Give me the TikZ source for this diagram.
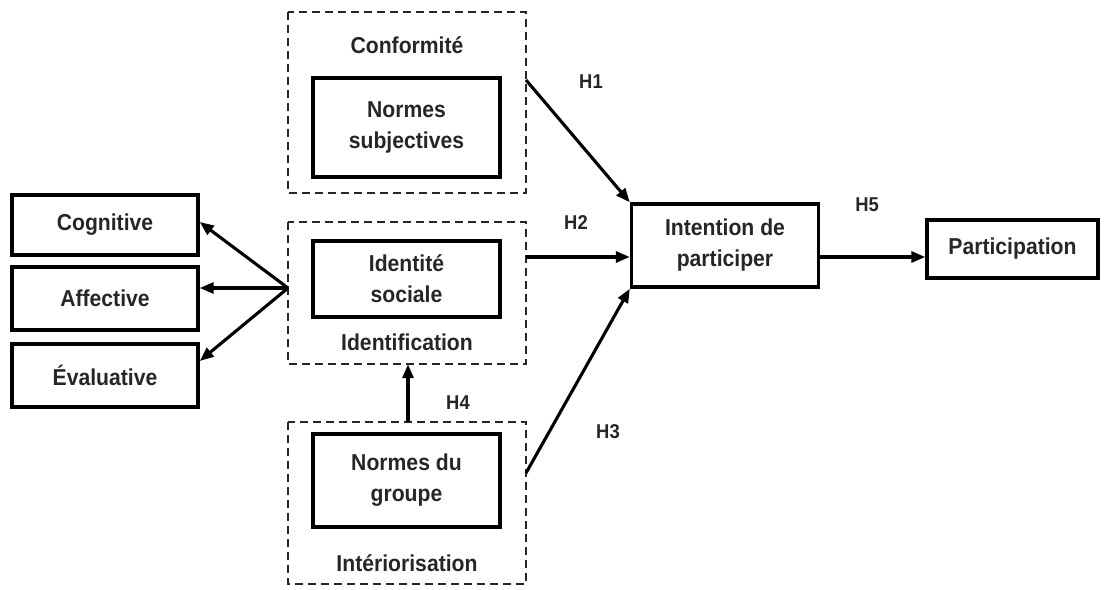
\documentclass[tikz,border=0pt]{standalone}
\usepackage{fontspec}
\setmainfont{Liberation Sans}[FakeStretch=0.92]
\usetikzlibrary{arrows.meta}
\begin{document}
\begin{tikzpicture}[x=1pt,y=-1pt,
  every node/.style={font=\bfseries\fontsize{23}{31}\selectfont, text=black!85, align=center, inner sep=0pt},
  solidbox/.style={draw=black, line width=3.4pt, minimum width=#1, minimum height=60pt},
  groupbox/.style={draw=black!85, line width=2pt, dash pattern=on 8pt off 5pt},
  link/.style={line width=3.1pt, -{Triangle[length=14pt,width=11pt]}},
  hyp/.style={font=\bfseries\fontsize{20}{22}\selectfont}]
\useasboundingbox (0,0) rectangle (1105,589);
% outer dashed groups
\draw[groupbox] (288,12) rectangle (526,193);
\draw[groupbox] (288,222) rectangle (526,364);
\draw[groupbox] (288,422) rectangle (526,584);
\node[minimum width=238pt, minimum height=181pt] (conf) at (407,102.5) {};
\node[minimum width=238pt, minimum height=142pt] (ident) at (407,293) {};
\node[minimum width=238pt, minimum height=162pt] (inter) at (407,503) {};
% group titles
\node (tconf) at (407,45) {Conformit\'e};
\node (tident) at (407,342) {Identification};
\node (tinter) at (407,563) {Int\'eriorisation};
% inner constructs
\node[solidbox=187pt, minimum height=99pt] (ns) at (406.5,127.5) {Normes\\subjectives};
\node[solidbox=187pt, minimum height=76pt] (is) at (406.5,279) {Identit\'e\\sociale};
\node[solidbox=187pt, minimum height=93pt] (ng) at (406.5,480.5) {Normes du\\groupe};
% left components
\node[solidbox=186pt] (cog) at (105,225) {Cognitive};
\node[solidbox=186pt, minimum height=63pt] (aff) at (105,298.5) {Affective};
\node[solidbox=186pt, minimum height=63pt] (eva) at (105,375.5) {\'Evaluative};
% outcomes
\node[solidbox=187pt, minimum height=83pt] (int) at (725,245.5) {Intention de\\participer};
\node[solidbox=171pt, minimum height=58pt] (part) at (1012.5,249) {Participation};
% connector end points
\coordinate (src) at (288,288);
\coordinate (h1s) at (526,80);
\coordinate (h2s) at (526,257);
\coordinate (h3s) at (526,473);
\coordinate (h4s) at (408,422);
% arrows
\draw[link] (src) -- (cog.east |- 0,222);
\draw[link] (src) -- (aff.east |- 0,288);
\draw[link] (src) -- (eva.east |- 0,361);
\draw[link] (h1s) -- (int.north west);
\draw[link] (h2s) -- (int.west |- 0,257);
\draw[link] (h3s) -- (int.south west);
\draw[link] (h4s) -- (ident.south -| h4s);
\draw[link] (int.east |- 0,257) -- (part.west |- 0,257);
% hypothesis labels
\node[hyp] (l1) at (591,82) {H1};
\node[hyp] (l2) at (576,223) {H2};
\node[hyp] (l3) at (608,432) {H3};
\node[hyp] (l4) at (458,403) {H4};
\node[hyp] (l5) at (867,205) {H5};
\end{tikzpicture}
\end{document}
